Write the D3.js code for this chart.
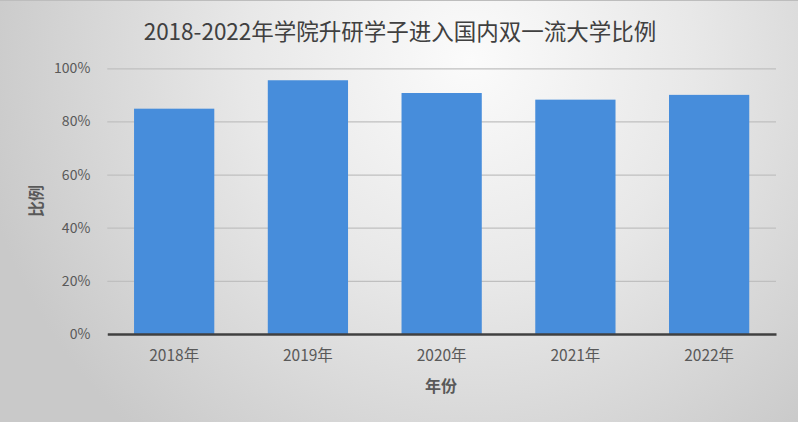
<!DOCTYPE html>
<html><head><meta charset="utf-8">
<script src="https://cdn.jsdelivr.net/npm/d3@7"></script>
<style>html,body{margin:0;padding:0;background:#fff;}svg{display:block;}</style>
</head><body>
<script>
const categories = ["2018年","2019年","2020年","2021年","2022年"];
const values = [0.848, 0.955, 0.907, 0.882, 0.900];
const yTicks = [0, 0.2, 0.4, 0.6, 0.8, 1.0];
const title = "2018-2022年学院升研学子进入国内双一流大学比例";
const xTitle = "年份";
const yTitle = "比例";

const W = 798, H = 422;
const m = {left:107.3, right:W-776, top:68.3, bottom:H-334};
const svg = d3.select("body").append("svg").attr("width",W).attr("height",H);
const defs = svg.append("defs");
const rg = defs.append("radialGradient").attr("id","bg").attr("gradientUnits","userSpaceOnUse")
  .attr("cx",470).attr("cy",60).attr("r",500);
rg.append("stop").attr("offset","0").attr("stop-color","#fbfbfb");
rg.append("stop").attr("offset","0.45").attr("stop-color","#e8e8e8");
rg.append("stop").attr("offset","1").attr("stop-color","#c9c9c9");
svg.append("rect").attr("width",W).attr("height",H).attr("fill","url(#bg)");
svg.append("line").attr("x1",0).attr("x2",W).attr("y1",0.5).attr("y2",0.5).attr("stroke","#bdbdbd");

const x = d3.scaleBand().domain(categories).range([m.left, W-m.right]).paddingInner(0.4).paddingOuter(0.2);
const y = d3.scaleLinear().domain([0,1]).range([H-m.bottom, m.top]);

const font = "'Noto Sans CJK SC','Noto Sans',sans-serif";

const yAxis = d3.axisLeft(y).tickValues(yTicks).tickFormat(d3.format(".0%")).tickSize(-(W-m.left-m.right)).tickPadding(17);
const gy = svg.append("g").attr("transform",`translate(${m.left},0)`).call(yAxis);
gy.select(".domain").remove();
gy.selectAll(".tick line").attr("stroke","#bfbfbf").attr("stroke-width",1.2);
gy.selectAll(".tick text").attr("fill","#595959").style("font-family",font).style("font-size","14px");

svg.append("g").selectAll("rect").data(values).join("rect")
  .attr("x",(d,i)=>x(categories[i])).attr("width",x.bandwidth())
  .attr("y",d=>y(d)).attr("height",d=>y(0)-y(d))
  .attr("fill","#478ddb");

const xAxis = d3.axisBottom(x).tickSize(0).tickPadding(16);
const gx = svg.append("g").attr("transform",`translate(0,${y(0)})`).call(xAxis);
gx.select(".domain").attr("stroke","#404040").attr("stroke-width",2.5);
gx.selectAll(".tick text").attr("fill","#595959").style("font-family",font).style("font-size","15.5px");

svg.append("text").attr("x",400).attr("y",40).attr("text-anchor","middle")
  .attr("fill","#404040").style("font-family",font).style("font-size","22.5px").text(title);
svg.append("text").attr("x",441).attr("y",392).attr("text-anchor","middle")
  .attr("fill","#595959").style("font-family",font).style("font-size","16px").style("font-weight","bold").text(xTitle);
svg.append("text").attr("transform","translate(42,201) rotate(-90)").attr("text-anchor","middle")
  .attr("fill","#595959").style("font-family",font).style("font-size","16px").style("font-weight","bold").text(yTitle);
</script>
</body></html>
